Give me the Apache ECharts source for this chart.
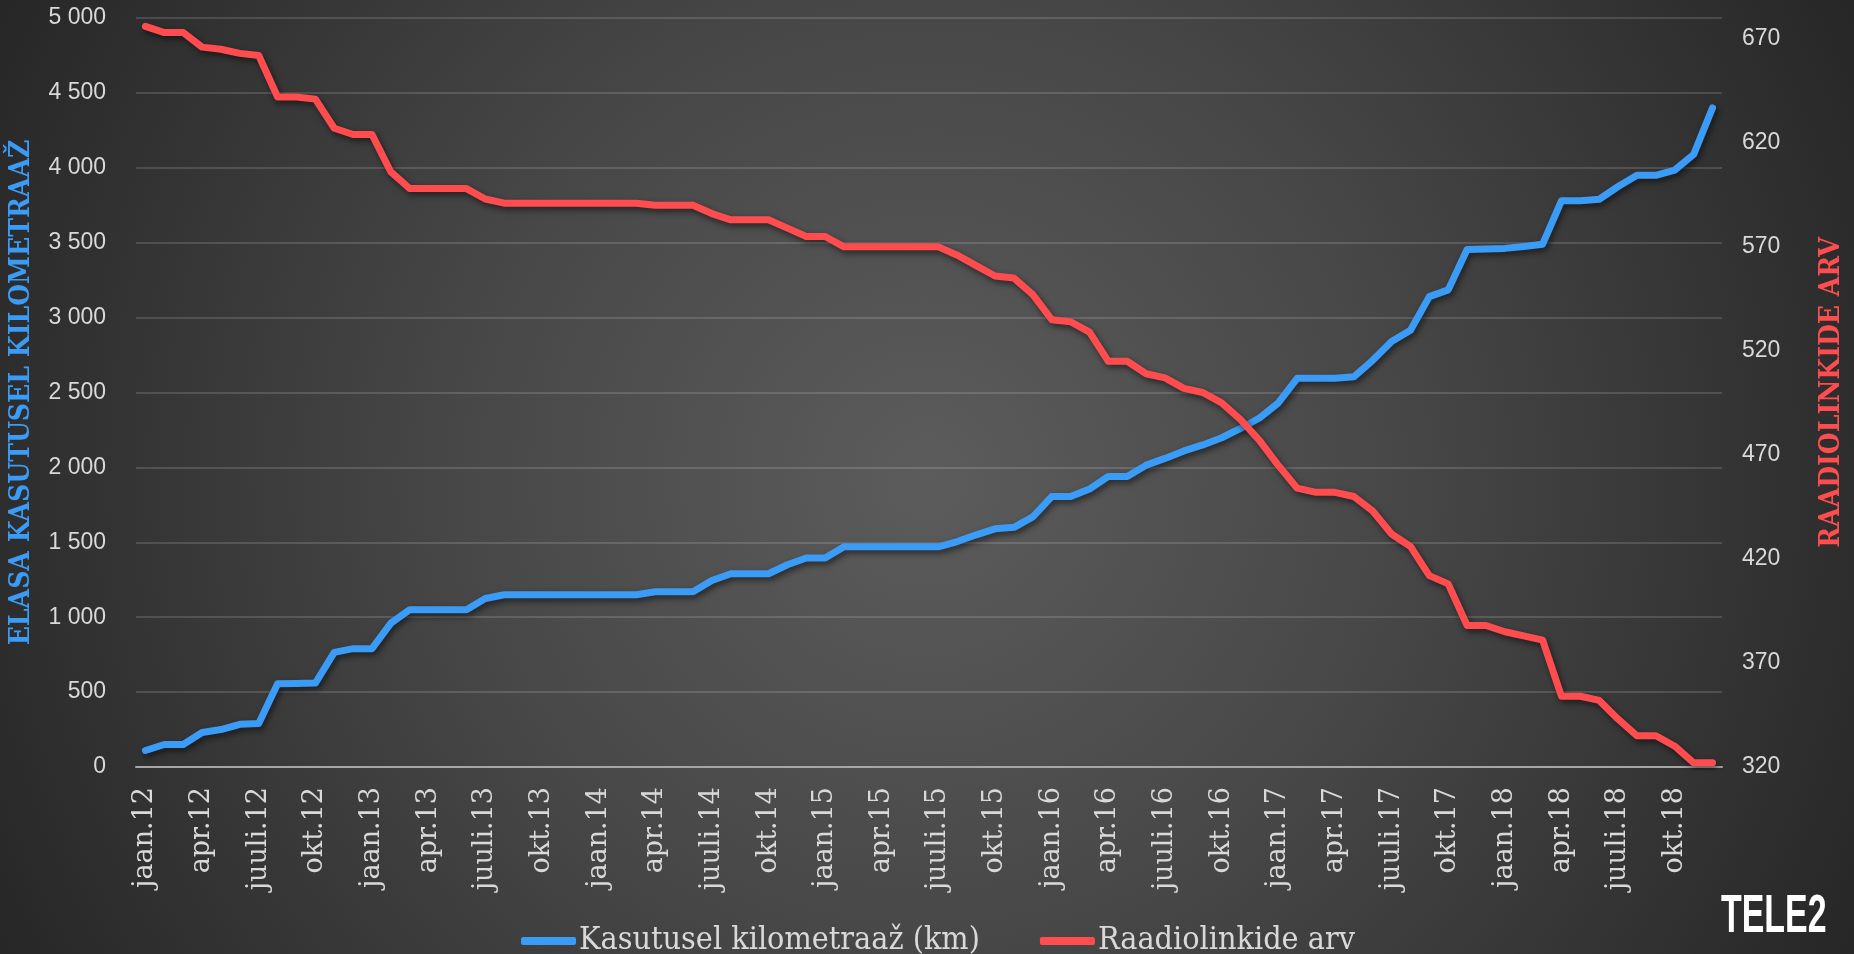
<!DOCTYPE html>
<html>
<head>
<meta charset="utf-8">
<title>Tele2 raadiolingid</title>
<script src="https://cdn.jsdelivr.net/npm/echarts@6/dist/echarts.min.js"></script>
<style>
  html, body {
    margin: 0;
    padding: 0;
    width: 1854px;
    height: 954px;
    overflow: hidden;
  }
  #chart {
    width: 1854px;
    height: 954px;
    background: radial-gradient(circle 1050px at 50% 50%, #5c5c5c 0%, #474747 45%, #262626 100%);
  }
</style>
</head>
<body>
<div id="chart"></div>
<script>
// kuud ja aastad telje jaoks
const months = ['jaan', 'veebr', 'märts', 'apr', 'mai', 'juuni', 'juuli', 'aug', 'sept', 'okt', 'nov', 'dets']
const years = ['12', '13', '14', '15', '16', '17', '18']

// Kasutusel kilometraaž (km)
const kmData = [
  110, 150, 150, 230, 250, 285, 290, 555, 558, 560, 765, 790,
  790, 960, 1050, 1050, 1050, 1050, 1125, 1150, 1150, 1150, 1150, 1150,
  1150, 1150, 1150, 1170, 1170, 1170, 1245, 1290, 1290, 1290, 1350, 1395,
  1395, 1470, 1470, 1470, 1470, 1470, 1470, 1505, 1550, 1590, 1600, 1670,
  1805, 1805, 1855, 1940, 1940, 2015, 2060, 2110, 2150, 2198, 2260, 2330,
  2430, 2595, 2595, 2595, 2605, 2715, 2840, 2915, 3140, 3185, 3455, 3458,
  3462, 3475, 3490, 3780, 3780, 3790, 3875, 3950, 3950, 3985, 4090, 4400
]

// Raadiolinkide arv
const linkData = [
  676, 673, 673, 666, 665, 663, 662, 642, 642, 641, 627, 624,
  624, 606, 598, 598, 598, 598, 593, 591, 591, 591, 591, 591,
  591, 591, 591, 590, 590, 590, 586, 583, 583, 583, 579, 575,
  575, 570, 570, 570, 570, 570, 570, 566, 561, 556, 555, 547,
  535, 534, 529, 515, 515, 509, 507, 502, 500, 495, 487, 477,
  465, 454, 452, 452, 450, 443, 432, 426, 412, 408, 388, 388,
  385, 383, 381, 354, 354, 352, 343, 335, 335, 330, 322, 322
]

const categories = []
years.forEach(y => {
  months.forEach(m => {
    categories.push(m + '.' + y)
  })
})

const blue = '#3a9cf7'
const red = '#ff4d4f'
const labelColor = '#d9d9d9'
const serifFont = '"DejaVu Serif Condensed", "DejaVu Serif", serif'

const chart = echarts.init(document.getElementById('chart'))

const lineShadow = {
  shadowColor: 'rgba(0, 0, 0, 0.55)',
  shadowBlur: 6,
  shadowOffsetX: 2,
  shadowOffsetY: 3
}

const option = {
  backgroundColor: 'transparent',
  animation: false,
  grid: {
    left: 134,
    right: 100,
    top: 18,
    bottom: 187
  },
  legend: {
    left: 516,
    top: 920,
    itemWidth: 55,
    itemHeight: 8,
    itemGap: 60,
    icon: 'roundRect',
    textStyle: {
      color: labelColor,
      fontFamily: serifFont,
      fontSize: 32,
      padding: [0, 0, 0, -2]
    },
    data: ['Kasutusel kilometraaž (km)', 'Raadiolinkide arv']
  },
  xAxis: {
    type: 'category',
    data: categories,
    boundaryGap: true,
    axisLine: {
      lineStyle: { color: '#a6a6a6', width: 2 }
    },
    axisTick: {
      interval: 2,
      length: 10,
      lineStyle: { color: '#a6a6a6', width: 2 }
    },
    axisLabel: {
      interval: 2,
      rotate: 90,
      margin: 20,
      color: labelColor,
      fontFamily: '"DejaVu Serif", serif',
      fontSize: 27
    }
  },
  yAxis: [
    {
      type: 'value',
      min: 0,
      max: 5000,
      interval: 500,
      name: 'ELASA KASUTUSEL KILOMETRAAŽ',
      nameLocation: 'middle',
      nameRotate: 90,
      nameGap: 100,
      nameTextStyle: {
        color: blue,
        fontFamily: serifFont,
        fontWeight: 'bold',
        fontSize: 28
      },
      axisLine: { show: false },
      axisTick: { show: false },
      axisLabel: {
        color: labelColor,
        fontFamily: 'Liberation Sans, Arial, sans-serif',
        fontSize: 23,
        margin: 30,
        formatter: v => String(v).replace(/\B(?=(\d{3})+(?!\d))/g, ' ')
      },
      splitLine: {
        lineStyle: { color: 'rgba(255, 255, 255, 0.14)', width: 2 }
      }
    },
    {
      type: 'value',
      min: 320,
      max: 680,
      interval: 50,
      position: 'right',
      name: 'RAADIOLINKIDE ARV',
      nameLocation: 'middle',
      nameRotate: 90,
      nameGap: 96,
      nameTextStyle: {
        color: red,
        fontFamily: serifFont,
        fontWeight: 'bold',
        fontSize: 28
      },
      axisLine: { show: false },
      axisTick: { show: false },
      axisLabel: {
        color: labelColor,
        fontFamily: 'Liberation Sans, Arial, sans-serif',
        fontSize: 23,
        margin: 20,
        showMaxLabel: false
      },
      splitLine: { show: false }
    }
  ],
  series: [
    {
      name: 'Kasutusel kilometraaž (km)',
      type: 'line',
      yAxisIndex: 0,
      data: kmData,
      showSymbol: false,
      color: blue,
      lineStyle: Object.assign({ width: 7, cap: 'round', join: 'round' }, lineShadow)
    },
    {
      name: 'Raadiolinkide arv',
      type: 'line',
      yAxisIndex: 1,
      data: linkData,
      showSymbol: false,
      color: red,
      lineStyle: Object.assign({ width: 7, cap: 'round', join: 'round' }, lineShadow)
    }
  ],
  graphic: [
    {
      type: 'text',
      x: 1721,
      y: 891,
      scaleX: 0.64,
      style: {
        text: 'TELE2',
        fill: '#ffffff',
        verticalAlign: 'top',
        font: 'bold 53px "Liberation Sans", Arial, sans-serif'
      }
    }
  ]
}

chart.setOption(option)
</script>
</body>
</html>
